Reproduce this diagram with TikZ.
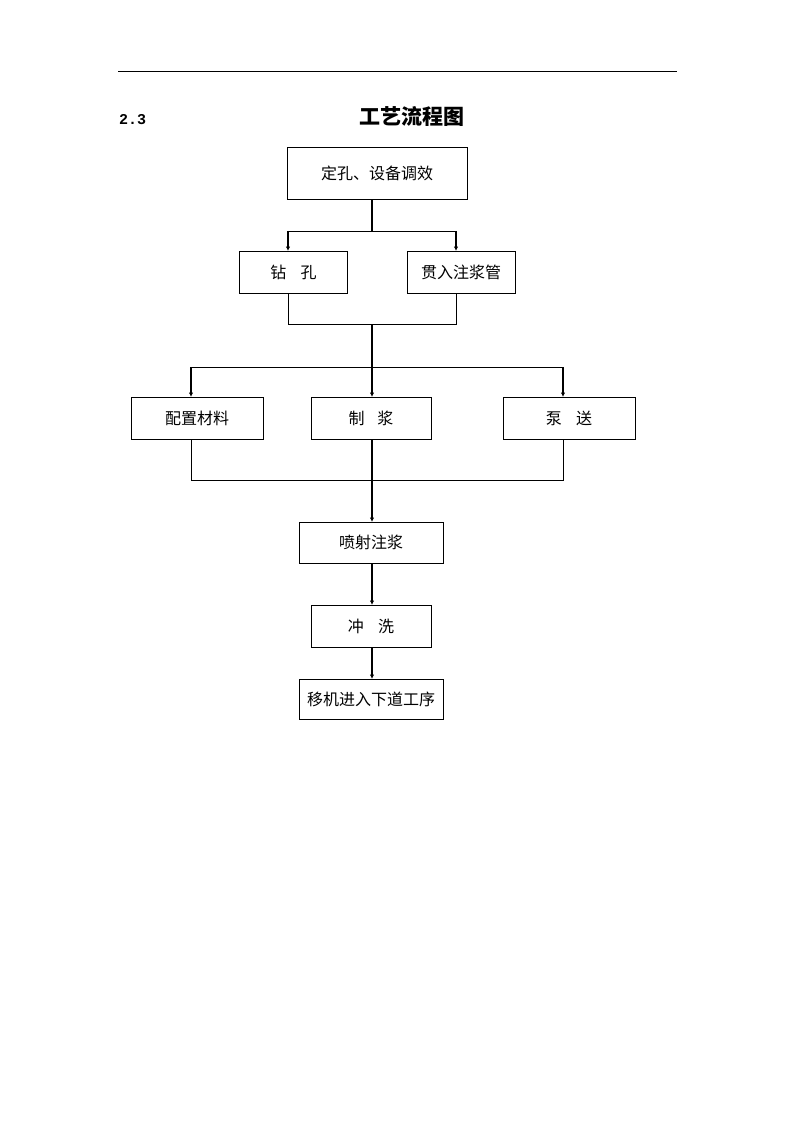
\documentclass[tikz,border=0pt]{standalone}
\usepackage{fontspec}
\newfontfamily\cjk{Noto Sans CJK SC}
\newfontfamily\monof{Liberation Mono}
\usetikzlibrary{arrows.meta}
\begin{document}
\begin{tikzpicture}[x=1pt,y=-1pt,
  box/.style={draw,line width=0.8pt,rectangle,inner sep=0pt,font=\cjk\fontsize{16}{16}\selectfont},
  arr/.style={line width=1.6pt,-{Latex[length=4.5pt,width=4.5pt]}},
  ln/.style={line width=0.8pt},
  thick line/.style={line width=1.6pt}]
\useasboundingbox (0,0) rectangle (794,1123);
\fill[white] (0,0) rectangle (794,1123);
% header
\coordinate (hl) at (118,72);
\coordinate (hr) at (677,72);
\draw[line width=1pt] (hl) -- (hr);
\node[anchor=west,inner sep=0pt,font=\monof\bfseries\fontsize{15}{15}\selectfont] (sec) at (119,120) {2.3};
\node[font=\cjk\bfseries\fontsize{21}{21}\selectfont] (title) at (412,117) {工艺流程图};
% boxes
\node[box,minimum width=180,minimum height=52] (b1) at (377,173) {定孔、设备调效};
\node[box,minimum width=108,minimum height=42] (b2) at (293.5,272) {钻\hspace{0.9em}孔};
\node[box,minimum width=108,minimum height=42] (b3) at (461,272) {贯入注浆管};
\node[box,minimum width=132,minimum height=42] (b4) at (197,418) {配置材料};
\node[box,minimum width=120,minimum height=42] (b5) at (371,418) {制\hspace{0.8em}浆};
\node[box,minimum width=132,minimum height=42] (b6) at (569,418) {泵\hspace{0.9em}送};
\node[box,minimum width=144,minimum height=41] (b7) at (371,542.5) {喷射注浆};
\node[box,minimum width=120,minimum height=42] (b8) at (371,626) {冲\hspace{0.9em}洗};
\node[box,minimum width=144,minimum height=40] (b9) at (371,699) {移机进入下道工序};
% junction coordinates
\coordinate (j1) at (372,231);
\coordinate (j1l) at (288,231);
\coordinate (j1r) at (456,231);
\coordinate (t2) at (288,251);
\coordinate (t3) at (456,251);
\coordinate (s2) at (288,293);
\coordinate (s3) at (456,293);
\coordinate (m2) at (288,324);
\coordinate (m3) at (456,324);
\coordinate (m) at (372,324);
\coordinate (j2l) at (191,367);
\coordinate (j2r) at (563,367);
\coordinate (t4) at (191,397);
\coordinate (t5) at (372,397);
\coordinate (t6) at (563,397);
\coordinate (s4) at (191,439);
\coordinate (s5) at (372,439);
\coordinate (s6) at (563,439);
\coordinate (m4) at (191,480);
\coordinate (m6) at (563,480);
\coordinate (t7) at (372,522);
\coordinate (s7) at (372,563);
\coordinate (t8) at (372,605);
\coordinate (s8) at (372,647);
\coordinate (t9) at (372,679);
% connectors
\draw[thick line] (b1.south -| j1) -- (j1);
\draw[ln] (j1l) -- (j1r);
\draw[arr] (j1l) -- (t2);
\draw[arr] (j1r) -- (t3);
\draw[ln] (s2) -- (m2) -- (m3) -- (s3);
\draw[ln] (j2l) -- (j2r);
\draw[arr] (m) -- (t5);
\draw[arr] (j2l) -- (t4);
\draw[arr] (j2r) -- (t6);
\draw[ln] (s4) -- (m4) -- (m6) -- (s6);
\draw[arr] (s5) -- (t7);
\draw[arr] (s7) -- (t8);
\draw[arr] (s8) -- (t9);
\end{tikzpicture}
\end{document}
